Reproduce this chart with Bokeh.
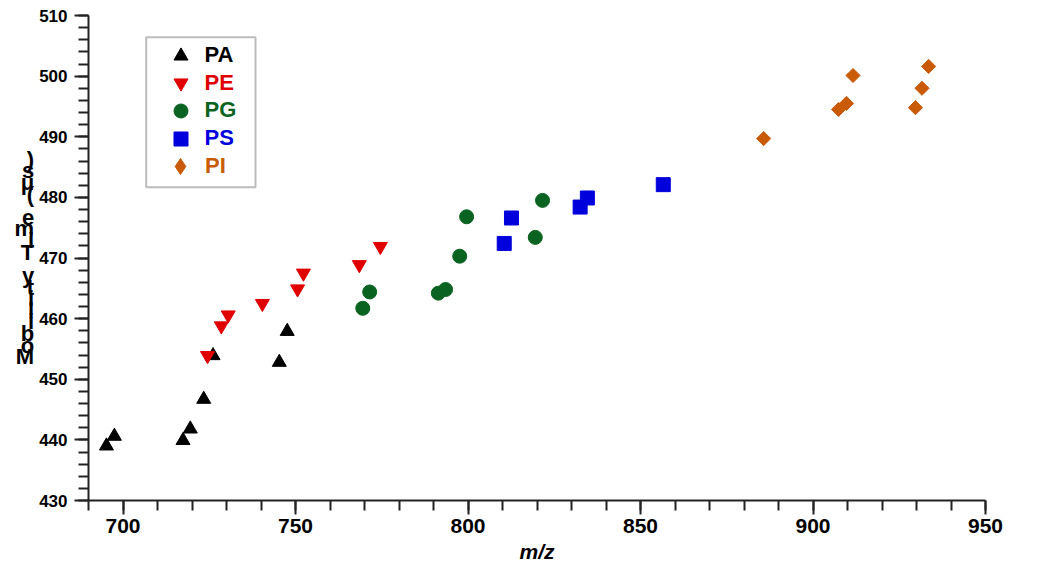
import numpy as np
from bokeh.plotting import figure
from bokeh.models import FixedTicker, Legend, LegendItem, BoxAnnotation, Range1d
from bokeh.embed import file_html
from bokeh.resources import INLINE

# ---- data ----
pa_x = [695.2, 697.5, 717.4, 719.5, 723.4, 726.1, 745.3, 747.6]
pa_y = [439.0, 440.6, 439.9, 441.8, 446.7, 453.9, 452.8, 457.9]
pe_x = [724.5, 728.5, 730.5, 740.4, 750.6, 752.3, 768.5, 774.6]
pe_y = [453.9, 458.8, 460.6, 462.5, 464.9, 467.5, 468.9, 471.9]
pg_x = [769.5, 771.5, 791.4, 793.5, 797.6, 799.6, 819.5, 821.6]
pg_y = [461.7, 464.4, 464.2, 464.8, 470.3, 476.8, 473.4, 479.5]
ps_x = [810.5, 812.6, 832.5, 834.6, 856.6]
ps_y = [472.4, 476.6, 478.4, 479.9, 482.1]
pi_x = [885.7, 907.4, 909.7, 911.6, 929.7, 931.6, 933.5]
pi_y = [489.7, 494.5, 495.5, 500.1, 494.8, 498.0, 501.6]

x_major = [700, 750, 800, 850, 900, 950]
x_minor = list(range(690, 951, 10))
y_major = list(range(430, 511, 10))
y_minor = list(range(430, 511, 2))

x_label = "m/z"
y_label = "Mobility Time (μs)"

FONT = "Liberation Sans"

p = figure(width=1040, height=580, output_backend="svg", toolbar_location=None,
           x_range=Range1d(690, 950), y_range=Range1d(430, 510),
           min_border_left=88, min_border_right=55, min_border_top=15, min_border_bottom=80)
p.outline_line_color = None
p.xgrid.visible = False
p.ygrid.visible = False
p.background_fill_color = "white"

series = [
    ("PA", pa_x, pa_y, "triangle", "black", 14, 0.0),
    ("PE", pe_x, pe_y, "inverted_triangle", "#e00000", 14, 0.0),
    ("PG", pg_x, pg_y, "circle", "#0b6321", 14, 0.0),
    ("PS", ps_x, ps_y, "square", "#0000dd", 14, 0.0),
    ("PI", pi_x, pi_y, "square", "#c95a08", 10, np.pi / 4),
]

renderers = []
for name, xs, ys, marker, color, size, ang in series:
    r = p.scatter(xs, ys, marker=marker, size=size, angle=ang,
                  fill_color=color, line_color=color, line_width=1)
    renderers.append(r)

# legend swatch for PI: a diamond (rotated squares are drawn unrotated in legends);
# its single NaN point is never drawn in the plot area
pi_key = p.scatter([np.nan], [np.nan], marker="diamond", size=10,
                   fill_color="#c95a08", line_color="#c95a08")
legend_renderers = renderers[:4] + [pi_key]

# axes
for ax in (p.xaxis[0], p.yaxis[0]):
    ax.axis_line_width = 2
    ax.axis_line_color = "#222222"
    ax.major_tick_line_width = 2
    ax.minor_tick_line_width = 2
    ax.major_tick_line_color = "#222222"
    ax.minor_tick_line_color = "#222222"
    ax.major_tick_in = 0
    ax.minor_tick_in = 0
    ax.major_tick_out = 14
    ax.minor_tick_out = 10
    ax.major_label_text_font = FONT
    ax.major_label_text_font_style = "bold"
    ax.major_label_text_color = "black"
    ax.axis_label_text_font = FONT
    ax.axis_label_text_color = "black"

p.xaxis.ticker = FixedTicker(ticks=x_major, minor_ticks=x_minor)
p.yaxis.ticker = FixedTicker(ticks=y_major, minor_ticks=y_minor)
p.xaxis.major_label_text_font_size = "21px"
p.yaxis.major_label_text_font_size = "17px"
p.xaxis.major_label_standoff = 4
p.yaxis.major_label_standoff = 7

p.xaxis.axis_label = x_label
p.xaxis.axis_label_text_font_size = "21px"
p.xaxis.axis_label_text_font_style = "bold italic"
p.xaxis.axis_label_standoff = 4

p.yaxis.axis_label = "\n".join(reversed(y_label))
p.yaxis.axis_label_orientation = "horizontal"
p.yaxis.axis_label_text_font_size = "22px"
p.yaxis.axis_label_text_font_style = "bold"
p.yaxis.axis_label_text_line_height = 0.465
p.yaxis.axis_label_standoff = 2

# legend: one legend per entry so each label keeps its series colour
frame_left, frame_bottom = 88, 500  # page pixels of the frame's bottom-left corner
row0, pitch = 55, 27.7
mark_cx, label_x = 180, 205
for i, ((name, xs, ys, marker, color, size, ang), r) in enumerate(zip(series, legend_renderers)):
    gh = 35 if i < 4 else 40
    yc = row0 + i * pitch
    leg = Legend(items=[LegendItem(label=name, renderers=[r])],
                 location=(mark_cx - frame_left - gh / 2, frame_bottom - (yc + gh / 2)),
                 padding=0, margin=0, spacing=0,
                 glyph_width=gh, glyph_height=gh, label_height=gh,
                 label_standoff=int(label_x - mark_cx - gh / 2),
                 label_text_font=FONT, label_text_font_style="bold",
                 label_text_font_size="22px", label_text_color=color,
                 border_line_alpha=0, background_fill_alpha=0)
    p.add_layout(leg)

box = BoxAnnotation(left=145.7 - frame_left, right=255 - frame_left,
                    top=frame_bottom - 36.7, bottom=frame_bottom - 186.7,
                    left_units="screen", right_units="screen",
                    top_units="screen", bottom_units="screen",
                    fill_alpha=0, line_color="#222222", line_width=2)
p.add_layout(box)

open("out.html", "w").write(file_html(p, INLINE))
